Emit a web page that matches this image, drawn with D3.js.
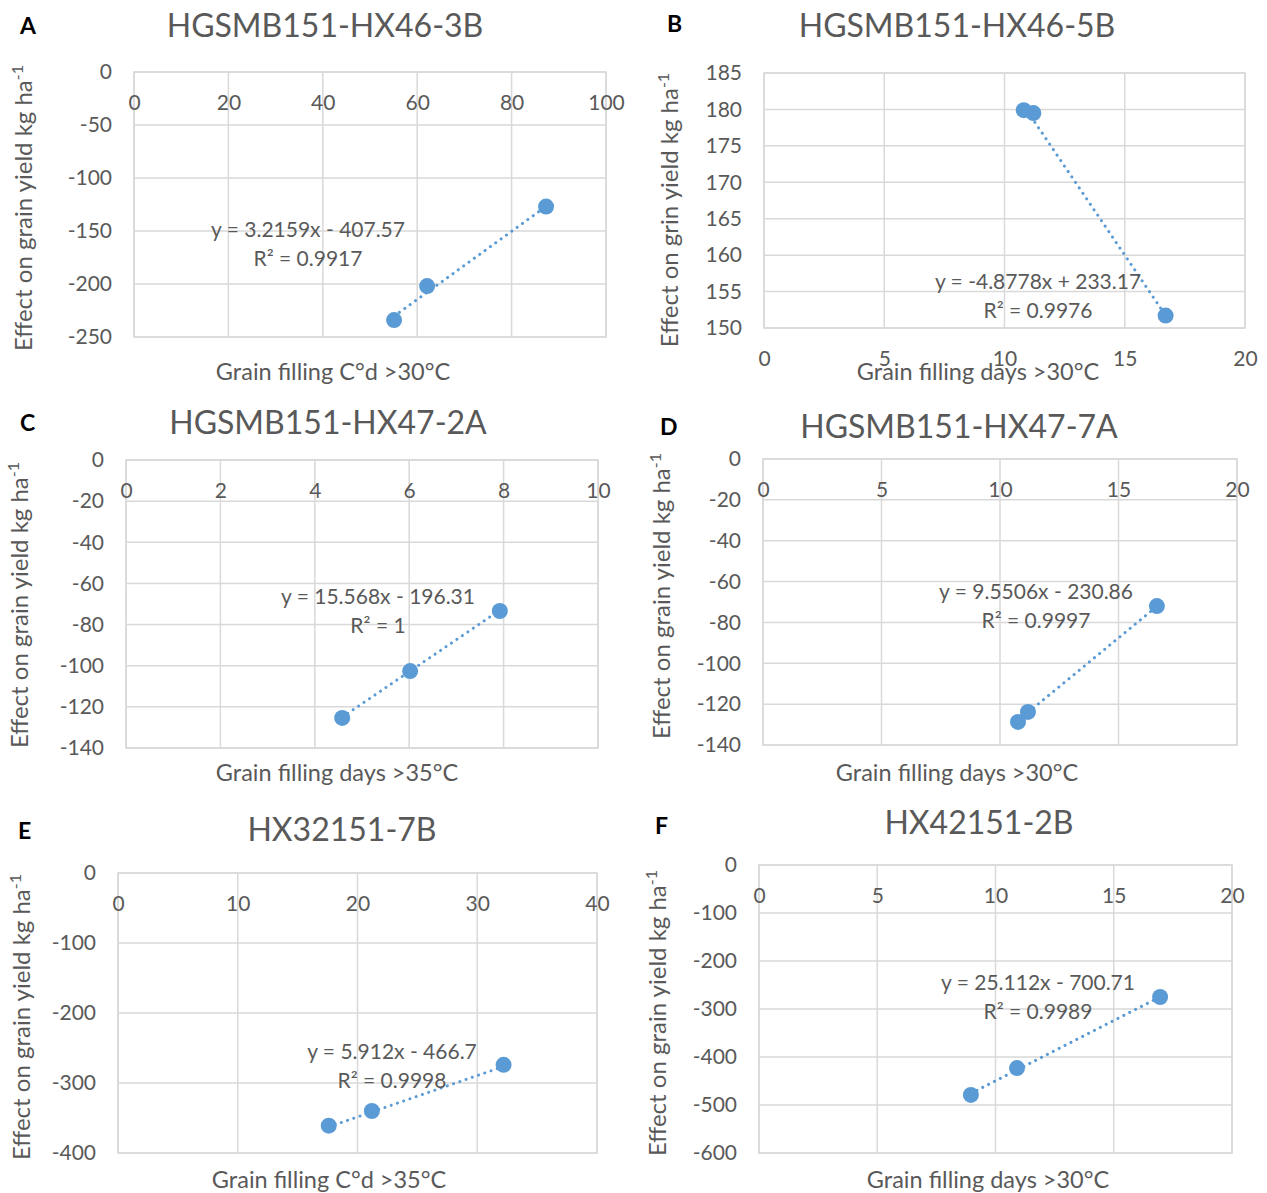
<!DOCTYPE html>
<html>
<head>
<meta charset="utf-8">
<script src="https://cdn.jsdelivr.net/npm/d3@7"></script>
<style>
  body { margin: 0; background: #fff; }
  text { font-family: Lato, "Open Sans", sans-serif; fill: #595959; }
  .grid line, .frame { stroke: #d9d9d9; stroke-width: 1.5; fill: none; }
  .axis path { display: none; }
  .axis text { font-family: Lato, sans-serif; font-size: 21px; fill: #595959; }
  .title { font-size: 32px; }
  .letter { font-size: 23px; font-weight: bold; fill: #000; }
  .axis-title { font-size: 23.5px; }
  .y-title { font-size: 24px; }
  .eq { font-size: 21px; }
  .trend { stroke: #5b9bd5; stroke-width: 3; stroke-linecap: round; stroke-dasharray: 0.1 6.5; fill: none; }
  .dot { fill: #5b9bd5; }
</style>
</head>
<body>
<svg id="chart" width="1267" height="1193"></svg>
<script>
// panel data
const panelLetters = ["A", "B", "C", "D", "E", "F"];
const panelTitles = ["HGSMB151-HX46-3B", "HGSMB151-HX46-5B", "HGSMB151-HX47-2A",
  "HGSMB151-HX47-7A", "HX32151-7B", "HX42151-2B"];
const xTitles = ["Grain filling C°d >30°C", "Grain filling days >30°C", "Grain filling days >35°C",
  "Grain filling days >30°C", "Grain filling C°d >35°C", "Grain filling days >30°C"];
const yTitles = ["Effect on grain yield kg ha", "Effect on grin yield kg ha", "Effect on grain yield kg ha",
  "Effect on grain yield kg ha", "Effect on grain yield kg ha", "Effect on grain yield kg ha"];
const xTicks = [
  [0, 20, 40, 60, 80, 100],
  [0, 5, 10, 15, 20],
  [0, 2, 4, 6, 8, 10],
  [0, 5, 10, 15, 20],
  [0, 10, 20, 30, 40],
  [0, 5, 10, 15, 20]
];
const yTicks = [
  [-250, -200, -150, -100, -50, 0],
  [150, 155, 160, 165, 170, 175, 180, 185],
  [-140, -120, -100, -80, -60, -40, -20, 0],
  [-140, -120, -100, -80, -60, -40, -20, 0],
  [-400, -300, -200, -100, 0],
  [-600, -500, -400, -300, -200, -100, 0]
];
const xValues = [
  [55.1, 62.1, 87.3],
  [10.8, 11.2, 16.7],
  [4.58, 6.02, 7.92],
  [10.76, 11.18, 16.62],
  [17.6, 21.2, 32.2],
  [8.96, 10.91, 16.96]
];
const yValues = [
  [-234, -202, -127],
  [179.9, 179.5, 151.7],
  [-125.4, -102.6, -73.4],
  [-128.7, -123.8, -72.0],
  [-361, -340, -274],
  [-479, -423, -275]
];
const slopes = [3.2159, -4.8778, 15.568, 9.5506, 5.912, 25.112];
const intercepts = [-407.57, 233.17, -196.31, -230.86, -466.7, -700.71];
const rSquared = ["0.9917", "0.9976", "1", "0.9997", "0.9998", "0.9989"];

// where each panel sits on the page: plot box [left, top, right, bottom] and label anchors
const layout = [
  { plot: [134, 72, 606, 337], letter: [20, 26], title: [325, 26], yTitle: [24, 208], xTitle: [333, 372], eq: [308, 230] },
  { plot: [764, 73, 1245, 328], letter: [667, 24], title: [957, 26], yTitle: [670, 210], xTitle: [978, 372], eq: [1038, 282] },
  { plot: [126, 460, 598, 748], letter: [20, 423], title: [328, 423], yTitle: [20, 605], xTitle: [337, 773], eq: [378, 597] },
  { plot: [763, 459, 1237, 745], letter: [660, 427], title: [959, 427], yTitle: [662, 596], xTitle: [957, 773], eq: [1036, 592] },
  { plot: [118, 873, 597, 1153], letter: [18, 831], title: [342, 830], yTitle: [22, 1017], xTitle: [329, 1180], eq: [392, 1052] },
  { plot: [759, 865, 1232, 1153], letter: [655, 826], title: [979, 823], yTitle: [658, 1013], xTitle: [988, 1180], eq: [1038, 983] }
];

const svg = d3.select("#chart");

panelLetters.forEach(function (letter, i) {
  const L = layout[i];
  const [left, top, right, bottom] = L.plot;
  const xt = xTicks[i], yt = yTicks[i];

  const x = d3.scaleLinear().domain(d3.extent(xt)).range([left, right]);
  const y = d3.scaleLinear().domain(d3.extent(yt)).range([bottom, top]);

  const g = svg.append("g");

  // gridlines
  const grid = g.append("g").attr("class", "grid");
  grid.selectAll(".v").data(xt).join("line")
    .attr("x1", d => x(d)).attr("x2", d => x(d))
    .attr("y1", top).attr("y2", bottom);
  grid.selectAll(".h").data(yt).join("line")
    .attr("x1", left).attr("x2", right)
    .attr("y1", d => y(d)).attr("y2", d => y(d));
  g.append("rect").attr("class", "frame")
    .attr("x", left).attr("y", top)
    .attr("width", right - left).attr("height", bottom - top);

  // x axis crosses at 0 when it is in range, otherwise at the minimum
  const crossY = y.domain()[0] <= 0 && y.domain()[1] >= 0 ? 0 : y.domain()[0];
  g.append("g").attr("class", "axis")
    .attr("transform", "translate(0," + y(crossY) + ")")
    .call(d3.axisBottom(x).tickValues(xt).tickSize(0).tickPadding(23).tickFormat(d => String(d)));
  g.append("g").attr("class", "axis")
    .attr("transform", "translate(" + left + ",0)")
    .call(d3.axisLeft(y).tickValues(yt).tickSize(0).tickPadding(22).tickFormat(d => String(d)));

  // trendline over the data range
  const xs = d3.extent(xValues[i]);
  g.append("line").attr("class", "trend")
    .attr("x1", x(xs[0])).attr("y1", y(slopes[i] * xs[0] + intercepts[i]))
    .attr("x2", x(xs[1])).attr("y2", y(slopes[i] * xs[1] + intercepts[i]));

  // points
  g.selectAll(".dot").data(xValues[i].map((v, j) => [v, yValues[i][j]])).join("circle")
    .attr("class", "dot")
    .attr("cx", d => x(d[0])).attr("cy", d => y(d[1]))
    .attr("r", 8);

  // equation labels
  const eqText = "y = " + slopes[i] + "x " + (intercepts[i] < 0 ? "- " : "+ ") + Math.abs(intercepts[i]);
  g.append("text").attr("class", "eq")
    .attr("x", L.eq[0]).attr("y", L.eq[1]).attr("dy", "0.35em")
    .attr("text-anchor", "middle").text(eqText);
  g.append("text").attr("class", "eq")
    .attr("x", L.eq[0]).attr("y", L.eq[1] + 29).attr("dy", "0.35em")
    .attr("text-anchor", "middle").text("R² = " + rSquared[i]);

  // titles
  g.append("text").attr("class", "title")
    .attr("x", L.title[0]).attr("y", L.title[1]).attr("dy", "0.35em")
    .attr("text-anchor", "middle").text(panelTitles[i]);
  g.append("text").attr("class", "letter")
    .attr("x", L.letter[0]).attr("y", L.letter[1]).attr("dy", "0.35em")
    .text(letter);
  g.append("text").attr("class", "axis-title")
    .attr("x", L.xTitle[0]).attr("y", L.xTitle[1]).attr("dy", "0.35em")
    .attr("text-anchor", "middle").text(xTitles[i]);

  const yLabel = g.append("text").attr("class", "y-title")
    .attr("transform", "translate(" + L.yTitle[0] + "," + L.yTitle[1] + ") rotate(-90)")
    .attr("dy", "0.35em").attr("text-anchor", "middle");
  yLabel.append("tspan").text(yTitles[i]);
  yLabel.append("tspan").attr("baseline-shift", "super").attr("font-size", "16px").text("-1");
});
</script>
</body>
</html>
